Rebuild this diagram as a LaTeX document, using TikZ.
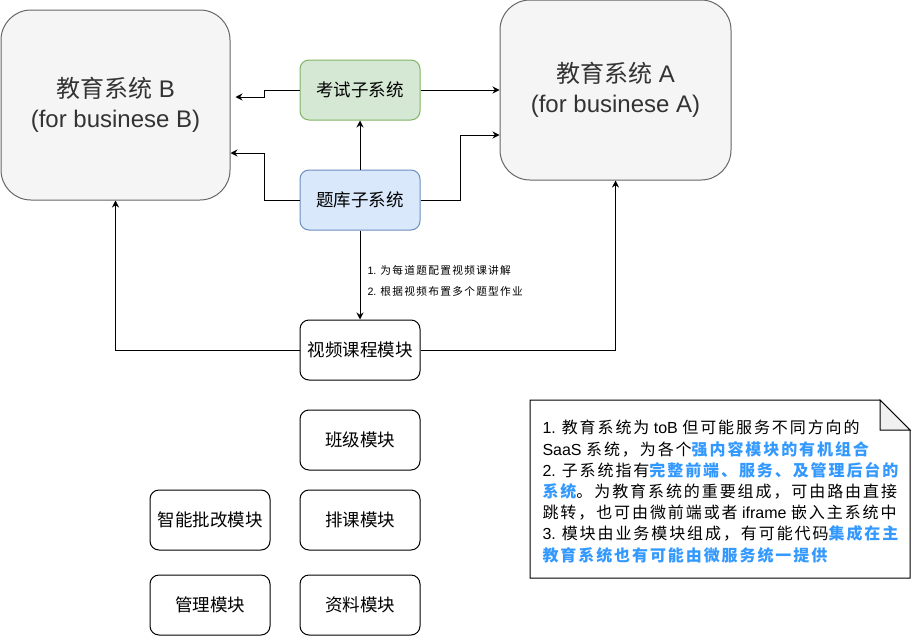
\documentclass[tikz,border=0pt]{standalone}
\usepackage{fontspec}
\setmainfont{Noto Sans CJK SC}
\newfontfamily\latn{Liberation Sans}
\newfontfamily\spacedcjk[LetterSpace=12]{Noto Sans CJK SC}
\usetikzlibrary{arrows.meta}

\definecolor{sysfill}{HTML}{F5F5F5}
\definecolor{sysline}{HTML}{666666}
\definecolor{systext}{HTML}{333333}
\definecolor{examfill}{HTML}{D5E8D4}
\definecolor{examline}{HTML}{82B366}
\definecolor{quizfill}{HTML}{DAE8FC}
\definecolor{quizline}{HTML}{6C8EBF}
\definecolor{notefold}{HTML}{F0F0F0}
\definecolor{noteblue}{HTML}{3399FF}

\newcommand{\bluetext}[1]{{\color{noteblue}\bfseries #1}}

\tikzset{
  sysbox/.style={draw=sysline, fill=sysfill, text=systext, rounded corners=30pt,
    align=center, font=\fontsize{24}{30}\selectfont},
  modbox/.style={draw, rounded corners=9pt, minimum width=120pt, minimum height=60pt,
    inner sep=0pt, font=\fontsize{17.5}{21}\selectfont},
  link/.style={->, line width=1pt}
}

\begin{document}
\begin{tikzpicture}[x=1pt, y=-1pt, line width=1pt, >={Stealth[length=7pt,width=7pt]}]
  % Bounding box of the whole drawing (pixels of the draw.io export)
  \useasboundingbox (0,0) rectangle (912,637);

  % The two education systems
  \node[sysbox, minimum width=229pt, minimum height=190pt] (sysB) at (115.5,105)
    {教育系统{\latn{} B}\\{\latn (for businese B)}};
  \node[sysbox, minimum width=231pt, minimum height=180pt] (sysA) at (615.5,90)
    {教育系统{\latn{} A}\\{\latn (for businese A)}};

  % Subsystems
  \node[modbox, draw=examline, fill=examfill] (exam) at (360,90) {考试子系统};
  \node[modbox, draw=quizline, fill=quizfill] (quiz) at (360,200) {题库子系统};

  % Modules
  \node[modbox] (video)   at (360,350) {视频课程模块};
  \node[modbox] (klass)   at (360,440) {班级模块};
  \node[modbox] (sched)   at (360,520) {排课模块};
  \node[modbox] (docs)    at (360,605) {资料模块};
  \node[modbox] (grading) at (210,520) {智能批改模块};
  \node[modbox] (manage)  at (210,605) {管理模块};

  % Connections
  \draw[link] (exam.west) -- ++(-35,0) -- ++(0,7) -- ++(-29,0);
  \draw[link] (exam.east) -- (sysA.west |- exam.east);
  \draw[link] (quiz.north) -- (exam.south);
  \draw[link] (quiz.west) -- ++(-35,0) |- (sysB.east |- 0,153);
  \draw[link] (quiz.east) -- ++(40,0) |- (sysA.west |- 0,135);
  \draw[link] (quiz.south) -- (video.north);
  \draw[link] (video.west) -| (sysB.south);
  \draw[link] (video.east) -| (sysA.south);

  % Label of the quiz -> video link
  \node[anchor=west, inner sep=0pt, align=left, font=\spacedcjk\fontsize{10.7}{21}\selectfont]
    (quizlabel) at (367,280.5)
    {{\latn 1. }为每道题配置视频课讲解\\{\latn 2. }根据视频布置多个题型作业};

  % Note with folded corner
  \draw[fill=white] (530,400) -- (880,400) -- (910,430) -- (910,578) -- (530,578) -- cycle;
  \draw[fill=notefold] (880,400) -- (880,430) -- (910,430) -- cycle;
  \node[anchor=west, inner sep=0pt, align=left, font=\spacedcjk\fontsize{16}{21.2}\selectfont]
    (notetext) at (542,491.5)
    {{\latn 1. }教育系统为{\latn{} toB }但可能服务不同方向的\\
     {\latn SaaS }系统，为各个\bluetext{强内容模块的有机组合}\\
     {\latn 2. }子系统指有\bluetext{完整前端、服务、及管理后台的}\\
     \bluetext{系统}。为教育系统的重要组成，可由路由直接\\
     跳转，也可由微前端或者{\latn{} iframe }嵌入主系统中\\
     {\latn 3. }模块由业务模块组成，有可能代码\bluetext{集成在主}\\
     \bluetext{教育系统也有可能由微服务统一提供}};
\end{tikzpicture}
\end{document}
